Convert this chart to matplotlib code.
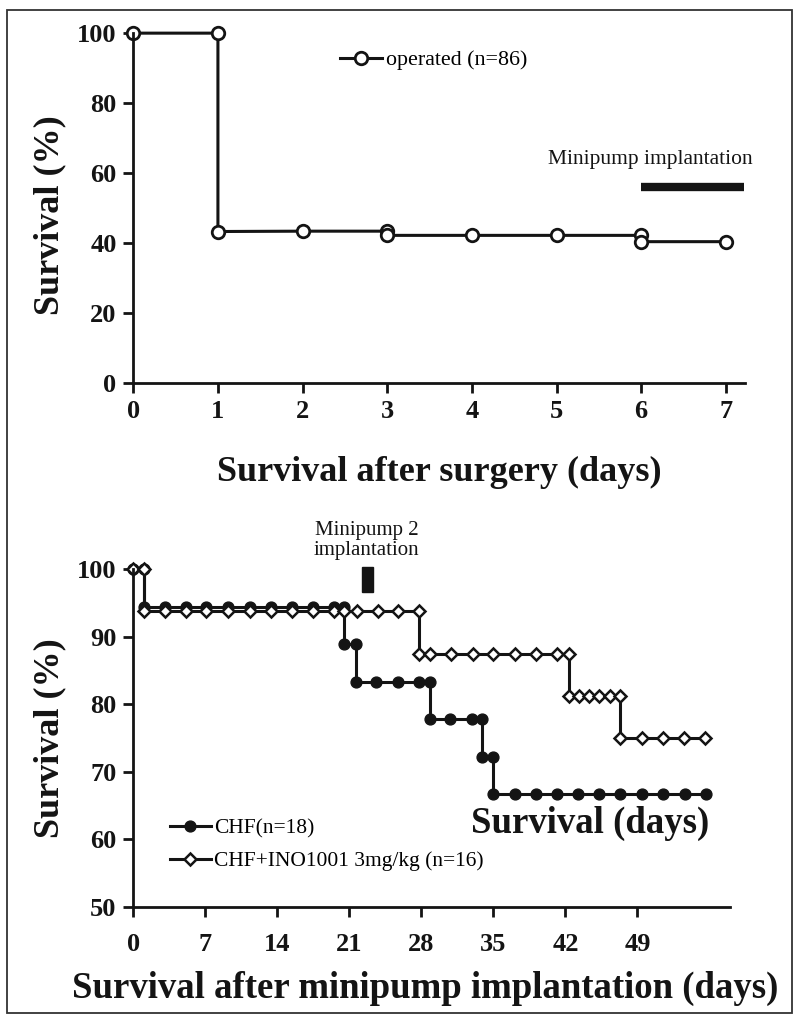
import matplotlib
matplotlib.use("Agg")
from matplotlib import pyplot as plt
from matplotlib.patches import Rectangle

# top panel: survival after surgery
surg_days = [0, 1, 1, 2, 3, 3, 4, 5, 6, 6, 7]
surg_pct = [100, 100, 43.3, 43.4, 43.4, 42.2, 42.2, 42.2, 42.2, 40.4, 40.4]
surg_label = "operated (n=86)"
surg_ticks = [0, 1, 2, 3, 4, 5, 6, 7]
pump_span = (6.0, 7.22)
pump_level = 56

# bottom panel: survival after minipump implantation
chf_days = [0, 1, 1, 3.1, 5.1, 7.1, 9.2, 11.3, 13.4, 15.4, 17.5, 19.5, 20.5,
            20.5, 21.6, 21.6, 23.6, 25.7, 27.8, 28.8, 28.8, 30.8, 32.9, 33.9,
            33.9, 35.0, 35.0, 37.1, 39.1, 41.2, 43.2, 45.3, 47.3, 49.4, 51.5,
            53.6, 55.7]
chf_pct = [100, 100, 94.4, 94.4, 94.4, 94.4, 94.4, 94.4, 94.4, 94.4, 94.4, 94.4, 94.4,
           88.9, 88.9, 83.3, 83.3, 83.3, 83.3, 83.3, 77.8, 77.8, 77.8, 77.8,
           72.2, 72.2, 66.7, 66.7, 66.7, 66.7, 66.7, 66.7, 66.7, 66.7, 66.7,
           66.7, 66.7]
ino_days = [0, 1, 1, 3.1, 5.1, 7.1, 9.2, 11.3, 13.4, 15.4, 17.5, 19.5, 20.5,
            21.7, 23.8, 25.7, 27.8, 27.8, 28.8, 30.9, 33.0, 35.0, 37.1, 39.1,
            41.2, 42.3, 42.3, 43.3, 44.3, 45.3, 46.3, 47.3, 47.3, 49.4, 51.5,
            53.5, 55.6]
ino_pct = [100, 100, 93.75, 93.75, 93.75, 93.75, 93.75, 93.75, 93.75, 93.75, 93.75,
           93.75, 93.75, 93.75, 93.75, 93.75, 93.75, 87.5, 87.5, 87.5, 87.5, 87.5,
           87.5, 87.5, 87.5, 87.5, 81.25, 81.25, 81.25, 81.25, 81.25, 81.25, 75,
           75, 75, 75, 75]
chf_label = "CHF(n=18)"
ino_label = "CHF+INO1001 3mg/kg (n=16)"
imp_ticks = [0, 7, 14, 21, 28, 35, 42, 49]
imp_yticks = [50, 60, 70, 80, 90, 100]
pump2_span = (22.2, 23.3)
pump2_range = (96.6, 100.3)

INK = '#141414'
SERIF = ['Liberation Serif', 'DejaVu Serif']
plt.rcParams['font.family'] = SERIF
plt.rcParams['axes.linewidth'] = 2.0

fig = plt.figure(figsize=(8, 10.23), dpi=100)
fig.patches.append(Rectangle((0.009, 0.010), 0.981, 0.980, transform=fig.transFigure,
                             fill=False, lw=1.3, ec='#333333'))


def style(ax, xticks, yticks):
    for spine in 'top right'.split():
        ax.spines[spine].set_visible(False)
    for spine in 'left bottom'.split():
        ax.spines[spine].set_color(INK)
    ax.set_xticks(xticks)
    ax.set_yticks(yticks)
    ax.tick_params(direction='out', length=7, width=2, color=INK, labelsize=19,
                   labelcolor=INK)
    for lab in ax.get_xticklabels() + ax.get_yticklabels():
        lab.set_fontweight('bold')


# ---- top panel
ax1 = fig.add_axes([0.1666, 0.6256, 0.765, 0.342])
ax1.plot(surg_days, surg_pct, color=INK, lw=2.2, marker='o', ms=9,
         mfc='white', mec=INK, mew=2, clip_on=False, label=surg_label)
ax1.set_xlim(0, 7.23)
ax1.set_ylim(0, 100)
style(ax1, surg_ticks, [0, 20, 40, 60, 80, 100])
ax1.tick_params(axis='x', pad=5)
ax1.tick_params(axis='y', pad=5)
ax1.plot(pump_span, [pump_level, pump_level], color=INK, lw=6, solid_capstyle='butt')
ax1.text(6.11, 64, "Minipump implantation", fontsize=15.5, ha='center', va='center',
         color=INK)
ax1.legend(loc='center left', bbox_to_anchor=(0.338, 0.923), frameon=False,
           fontsize=15.8, handlelength=1.9, handletextpad=0.2, borderpad=0,
           borderaxespad=0, numpoints=1)
ax1.set_xlabel("Survival after surgery (days)", fontsize=26, fontweight='bold',
               color=INK, labelpad=24)
ax1.set_ylabel("Survival (%)", fontsize=26, fontweight='bold', color=INK, labelpad=8)
ax1.yaxis.label.set_y(0.48)

# ---- bottom panel
ax2 = fig.add_axes([0.1666, 0.1137, 0.746, 0.3298])
ax2.plot(chf_days, chf_pct, color=INK, lw=2.2, marker='o', ms=7.8,
         mfc=INK, mec=INK, clip_on=False, label=chf_label)
ax2.plot(ino_days, ino_pct, color=INK, lw=2.2, marker='D', ms=6.6,
         mfc='white', mec=INK, mew=1.8, clip_on=False, label=ino_label)
ax2.set_xlim(0, 58)
ax2.set_ylim(50, 100)
style(ax2, imp_ticks, imp_yticks)
ax2.tick_params(axis='x', pad=12)
ax2.tick_params(axis='y', pad=5)
ax2.add_patch(Rectangle((pump2_span[0], pump2_range[0]), pump2_span[1] - pump2_span[0],
                        pump2_range[1] - pump2_range[0], color=INK, clip_on=False))
ax2.text(22.7, 104.3, "Minipump 2\nimplantation", fontsize=15, ha='center',
         va='center', color=INK, linespacing=1.05)
ax2.text(44.4, 62.3, "Survival (days)", fontsize=26.5, fontweight='bold', ha='center',
         va='center', color=INK)
ax2.legend(loc='center left', bbox_to_anchor=(0.0615, 0.184), frameon=False,
           fontsize=15.5, handlelength=1.9, handletextpad=0.15, borderpad=0,
           borderaxespad=0, labelspacing=0.6, numpoints=1)
ax2.set_xlabel("Survival after minipump implantation (days)", fontsize=26.5,
               fontweight='bold', color=INK, labelpad=11)
ax2.xaxis.label.set_x(0.489)
ax2.set_ylabel("Survival (%)", fontsize=26, fontweight='bold', color=INK, labelpad=8)

fig.savefig("out.png", dpi=100)
